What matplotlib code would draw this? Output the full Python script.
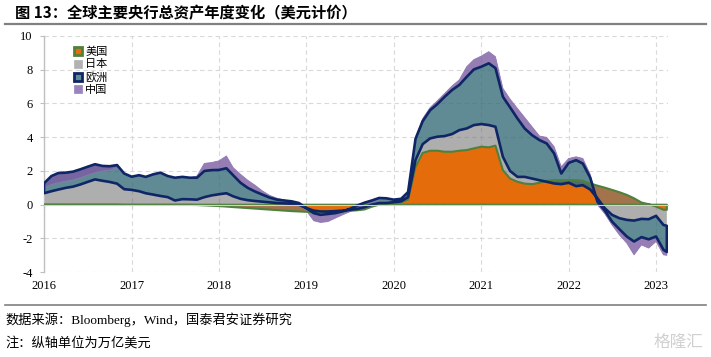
import matplotlib
matplotlib.use('Agg')
import matplotlib.pyplot as plt
import matplotlib.dates as mdates
from matplotlib.patches import Patch
from matplotlib.lines import Line2D
import numpy as np
import pandas as pd

# ---------------- data (万亿美元, year-over-year change) ----------------
dates = list(pd.date_range('2016-01-01', periods=86, freq='MS')) + [pd.Timestamp('2023-02-15')]

us = [0.00, 0.00, 0.00, 0.00, 0.00, 0.00, 0.00, 0.00, 0.00, 0.00, 0.00, -0.01,
      -0.01, -0.01, -0.01, -0.01, -0.01, -0.01, -0.01, -0.01, -0.01, -0.02, -0.04, -0.06,
      -0.08, -0.11, -0.14, -0.17, -0.20, -0.23, -0.26, -0.29, -0.32, -0.35, -0.38, -0.40,
      -0.42, -0.45, -0.45, -0.45, -0.42, -0.40, -0.36, -0.33, -0.28, -0.12, 0.00, 0.05,
      0.10, 0.15, 0.30, 2.25, 3.07, 3.20, 3.20, 3.14, 3.14, 3.20, 3.24, 3.34,
      3.44, 3.40, 3.50, 2.05, 1.55, 1.36, 1.25, 1.22, 1.30, 1.42, 1.46, 1.46,
      1.46, 1.46, 1.42, 1.26, 1.13, 1.01, 0.88, 0.74, 0.58, 0.38, 0.13, 0.03,
      -0.11, -0.30, -0.30]
jp = [0.68, 0.80, 0.90, 1.00, 1.07, 1.20, 1.35, 1.50, 1.42, 1.35, 1.25, 0.93,
      0.89, 0.81, 0.69, 0.61, 0.53, 0.46, 0.26, 0.34, 0.33, 0.32, 0.49, 0.61,
      0.70, 0.79, 0.64, 0.52, 0.47, 0.45, 0.44, 0.43, 0.42, 0.43, 0.43, 0.40,
      0.22, 0.10, 0.05, 0.05, 0.04, 0.05, 0.06, 0.08, 0.13, 0.12, 0.10, 0.05,
      0.05, 0.05, 0.15, 0.39, 0.52, 0.73, 0.83, 0.93, 1.05, 1.22, 1.28, 1.38,
      1.34, 1.32, 1.12, 0.79, 0.45, 0.29, 0.40, 0.33, 0.15, -0.06, -0.20, -0.24,
      -0.16, -0.36, -0.26, -0.36, -0.75, -1.22, -1.48, -1.54, -1.48, -1.32, -0.97, -0.89,
      -0.55, -0.90, -0.95]
eu = [0.59, 0.90, 0.98, 0.90, 0.89, 0.90, 0.90, 0.90, 0.88, 0.93, 1.10, 0.93,
      0.78, 0.95, 0.97, 1.20, 1.38, 1.25, 1.35, 1.32, 1.28, 1.30, 1.55, 1.50,
      1.44, 1.48, 1.25, 0.95, 0.73, 0.56, 0.42, 0.28, 0.20, 0.17, 0.15, 0.10,
      0.00, -0.15, -0.20, -0.15, -0.12, -0.05, 0.05, 0.20, 0.27, 0.25, 0.30, 0.28,
      0.15, 0.15, 0.30, 1.26, 1.36, 1.67, 1.93, 2.33, 2.61, 2.68, 3.06, 3.30,
      3.40, 3.66, 3.48, 3.56, 3.77, 3.46, 2.87, 2.57, 2.38, 2.27, 1.78, 0.63,
      1.18, 1.54, 1.28, 0.70, -0.20, -0.14, -0.40, -0.65, -0.99, -1.24, -1.08, -1.19,
      -1.22, -1.47, -1.55]
cn = [-0.27, -0.50, -0.58, -0.50, -0.49, -0.50, -0.50, -0.50, -0.30, -0.23, -0.15, -0.05,
      0.00, 0.00, 0.00, 0.00, 0.00, 0.00, 0.00, 0.00, 0.00, 0.10, 0.45, 0.45,
      0.54, 0.73, 0.45, 0.50, 0.45, 0.37, 0.22, 0.13, 0.08, 0.03, -0.05, -0.05,
      -0.15, -0.45, -0.45, -0.45, -0.30, -0.20, -0.17, -0.17, -0.17, -0.15, -0.10, -0.08,
      -0.05, -0.05, -0.05, 0.10, 0.15, 0.16, 0.20, 0.20, 0.24, 0.30, 0.60, 0.58,
      0.63, 0.69, 0.67, 0.50, 0.49, 0.59, 0.65, 0.50, 0.24, 0.36, 0.40, 0.40,
      0.26, 0.20, 0.30, 0.20, -0.18, -0.19, -0.20, -0.34, -0.39, -0.79, -0.46, -0.52,
      -0.30, -0.30, -0.20]

series_names = ['美国', '日本', '欧洲', '中国']
y_ticks = [-4, -2, 0, 2, 4, 6, 8, 10]

# ---------------- styles ----------------
c_us_fill, c_us_edge = '#E46C0A', '#4F813D'
c_jp_fill = (120/255, 120/255, 120/255, 0.6)
c_eu_fill, c_eu_edge = (56/255, 110/255, 121/255, 0.8), '#0F2666'
c_cn_fill = (124/255, 92/255, 161/255, 0.8)
c_cn_edge = '#8D78B4'

cjk = ['Noto Sans CJK SC', 'DejaVu Sans']
plt.rcParams['font.family'] = ['Liberation Serif', 'Noto Sans CJK SC']

# Excel-like stacking: cumulative sums (mixed signs)
s1 = np.array(us)
s2 = s1 + np.array(jp)
s3 = s2 + np.array(eu)
s4 = s3 + np.array(cn)
base = np.zeros_like(s1)

fig = plt.figure(figsize=(7.11, 3.57), dpi=100)
ax = fig.add_axes([0.0619, 0.2375, 0.877, 0.6617])

# fills
ax.fill_between(dates, base, s1, facecolor=c_us_fill, edgecolor='none', zorder=1)
ax.fill_between(dates, s1, s2, facecolor=c_jp_fill, edgecolor='none', zorder=2)
ax.fill_between(dates, s2, s3, facecolor=c_eu_fill, edgecolor='none', zorder=3)
ax.fill_between(dates, s3, s4, facecolor=c_cn_fill, edgecolor='none', zorder=4)
# outlines (Excel draws borders around each area)
ax.fill_between(dates, s3, s4, facecolor='none', edgecolor=c_cn_edge, lw=0.6, zorder=5)
ax.fill_between(dates, base, s1, facecolor='none', edgecolor=c_us_edge, lw=1.5, zorder=6)
ax.fill_between(dates, s2, s3, facecolor='none', edgecolor=c_eu_edge, lw=1.9, zorder=7)

# axes styling
ax.set_ylim(-4, 10)
ax.set_xlim(pd.Timestamp('2016-01-01'), pd.Timestamp('2023-02-18'))
ax.set_yticks(y_ticks)
ax.set_yticklabels([str(v) for v in y_ticks])
ax.xaxis.set_major_locator(mdates.YearLocator())
ax.xaxis.set_major_formatter(mdates.DateFormatter('%Y'))
ax.set_axisbelow(True)
ax.grid(True, color='#d9d9d9', lw=0.8, linestyle=(0, (4, 3)))

for s in ['top', 'right']:
    ax.spines[s].set_visible(False)
ax.spines['left'].set_color('#bfbfbf')
ax.spines['left'].set_linewidth(1.0)
ax.spines['bottom'].set_position(('data', 0))
ax.spines['bottom'].set_color('#d0d0d0')
ax.spines['bottom'].set_linewidth(0.8)
ax.spines['bottom'].set_zorder(10)

ax.tick_params(axis='y', length=3, color='#bfbfbf', labelsize=9, pad=5)
ax.tick_params(axis='x', direction='inout', length=4, color='#d0d0d0', labelsize=9, pad=52)

# legend
handles = [
    Patch(facecolor=c_us_fill, edgecolor=c_us_edge, lw=2.0),
    Patch(facecolor='#b2b2b2', edgecolor='#b2b2b2', lw=0.5),
    Patch(facecolor='#5E8B95', edgecolor=c_eu_edge, lw=2.0),
    Patch(facecolor='#9a84bf', edgecolor='#9a84bf', lw=0.5),
]
leg = ax.legend(handles, series_names, loc='upper left', bbox_to_anchor=(0.048, 0.955),
                frameon=False, prop={'family': cjk, 'size': 8}, handlelength=0.75,
                handleheight=0.75, handletextpad=0.25, labelspacing=0.22, borderaxespad=0,
                borderpad=0)
leg.set_zorder(20)

# title and notes
fig.text(0.021, 0.963, '图 13：全球主要央行总资产年度变化（美元计价）', fontsize=11,
         fontweight='bold', family=cjk, va='center', ha='left')
fig.add_artist(Line2D([0.007, 0.993], [1 - 24/357] * 2, color='#808080', lw=1.6))
fig.add_artist(Line2D([0.007, 0.993], [1 - 305/357] * 2, color='#808080', lw=1.2))
fig.text(0.008, 1 - 320/357, '数据来源：Bloomberg，Wind，国泰君安证券研究', fontsize=9.5,
         family=['Liberation Serif', 'Noto Sans CJK SC'], va='center', ha='left')
fig.text(0.008, 1 - 343/357, '注：纵轴单位为万亿美元', fontsize=9.5,
         family=['Liberation Serif', 'Noto Sans CJK SC'], va='center', ha='left')
fig.text(0.99, 1 - 342/357, '格隆汇', fontsize=12, color='#d0d0d0', family=cjk,
         va='center', ha='right')

fig.savefig('out.png', dpi=100)
